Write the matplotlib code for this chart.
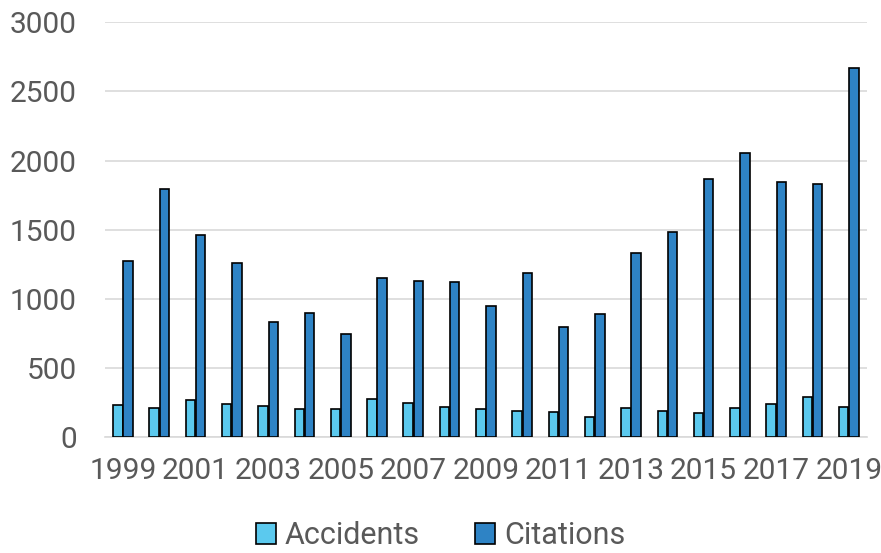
import matplotlib
matplotlib.use("Agg")
import matplotlib.pyplot as plt
import numpy as np

years = list(range(1999, 2020))
accidents = [233, 213, 269, 240, 230, 204, 204, 280, 251, 218, 204,
             189, 182, 150, 211, 191, 179, 215, 244, 295, 223]
citations = [1277, 1798, 1463, 1258, 834, 902, 746, 1152, 1131, 1124, 952,
             1189, 798, 892, 1331, 1487, 1868, 2053, 1848, 1834, 2665]
tick_years = [str(y) if (y - 1999) % 2 == 0 else "" for y in years]

plt.rcParams["font.family"] = ["Roboto", "DejaVu Sans"]
TXT = "#595959"

fig = plt.figure(figsize=(8.81, 5.53), dpi=100)
ax = fig.add_axes([0.119, 0.209, 0.865, 0.751])

x = np.arange(len(years))
w = 0.26
ax.bar(x - w / 2 - 0.01, accidents, w, color="#5BC9EE", edgecolor="black",
       linewidth=1.2, label="Accidents", zorder=3)
ax.bar(x + w / 2 + 0.01, citations, w, color="#2E83C5", edgecolor="black",
       linewidth=1.2, label="Citations", zorder=3)

ax.set_xlim(-0.5, len(years) - 0.5)
ax.set_ylim(0, 3000)
ax.set_yticks(range(0, 3001, 500))
ax.yaxis.grid(True, color="#D9D9D9", linewidth=1.2, zorder=0)
ax.set_xticks(x)
ax.set_xticklabels(tick_years)
ax.tick_params(axis="both", length=0, labelsize=21.5, colors=TXT)
ax.tick_params(axis="x", pad=14)
ax.tick_params(axis="y", pad=20)
for s in ["top", "right", "left"]:
    ax.spines[s].set_visible(False)
ax.spines["bottom"].set_color("#D9D9D9")
ax.spines["bottom"].set_linewidth(1.2)

leg = fig.legend(loc="lower center", bbox_to_anchor=(0.5, -0.045), ncol=2,
                 frameon=False, fontsize=22, handlelength=0.65, handleheight=0.65,
                 handletextpad=0.3, columnspacing=1.8)
for t in leg.get_texts():
    t.set_color(TXT)

fig.savefig("out.png", dpi=100)
